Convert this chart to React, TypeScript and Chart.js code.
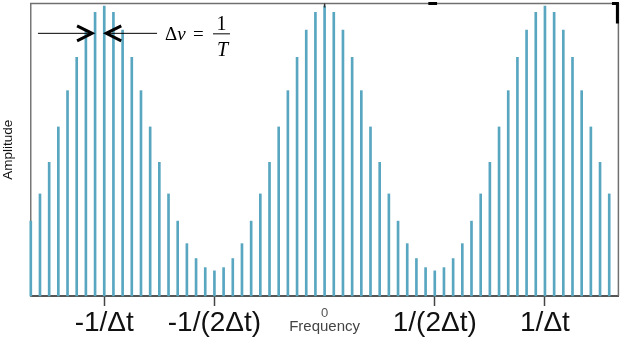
import React, { useEffect, useRef } from "react";
import { Chart, registerables } from "chart.js";

Chart.register(...registerables);

// Amplitude of each spectral line (bins 0..63) (0..100 scale)
const AMPLITUDE = [
  25.6, 34.9, 45.7, 57.8, 70.2, 81.6, 90.9, 97.0, 99.1, 97.0,
  90.9, 81.6, 70.2, 57.8, 45.7, 34.9, 25.6, 17.9, 12.8, 9.7,
  8.6, 9.7, 12.8, 17.9, 25.6, 34.9, 45.7, 57.8, 70.2, 81.6,
  90.9, 97.0, 99.1, 97.0, 90.9, 81.6, 70.2, 57.8, 45.7, 34.9,
  25.6, 17.9, 12.8, 9.7, 8.6, 9.7, 12.8, 17.9, 25.6, 34.9,
  45.7, 57.8, 70.2, 81.6, 90.9, 97.0, 99.1, 97.0, 90.9, 81.6,
  70.2, 57.8, 45.7, 34.9,
];

const TICK_POSITIONS = [8, 20, 32, 44, 56];
const TICK_LABELS = ["-1/\u0394t", "-1/(2\u0394t)", "0", "1/(2\u0394t)", "1/\u0394t"];
const ZERO_TICK = 32;

const X_MIN = 0;
const X_MAX = 64;
const Y_MIN = 0;
const Y_MAX = 100;

const SANS = '"Liberation Sans", Arial, Helvetica, sans-serif';
const SERIF = '"Liberation Serif", "Times New Roman", serif';

const annotationPlugin = {
  id: "annotations",
  afterDraw(chart: any) {
    const { ctx, chartArea: a, scales } = chart;
    const x = scales.x;
    const y = scales.y;
    ctx.save();

    // top and right frame
    ctx.strokeStyle = "#707070";
    ctx.lineWidth = 1.5;
    ctx.beginPath();
    ctx.moveTo(a.left - 0.75, a.top);
    ctx.lineTo(a.right, a.top);
    ctx.lineTo(a.right, a.bottom);
    ctx.stroke();

    // small tick on top border at 0
    ctx.strokeStyle = "#333";
    ctx.lineWidth = 1.5;
    const x0 = x.getPixelForValue(ZERO_TICK);
    ctx.beginPath();
    ctx.moveTo(x0, a.top);
    ctx.lineTo(x0, a.top + 4);
    ctx.stroke();

    // black dash on top border
    ctx.strokeStyle = "#000";
    ctx.lineWidth = 3;
    ctx.beginPath();
    ctx.moveTo(x.getPixelForValue(43.3), a.top);
    ctx.lineTo(x.getPixelForValue(44.25), a.top);
    ctx.stroke();

    // black corner at top right
    ctx.beginPath();
    ctx.moveTo(x.getPixelForValue(63.3), a.top);
    ctx.lineTo(a.right - 1, a.top);
    ctx.lineTo(a.right - 1, a.top + 20);
    ctx.stroke();

    // delta-nu arrows
    const ay = y.getPixelForValue(89.8);
    const leftTip = x.getPixelForValue(7) - 3;
    const rightTip = x.getPixelForValue(8) + 2;
    ctx.strokeStyle = "#000";
    ctx.lineWidth = 1;
    ctx.beginPath();
    ctx.moveTo(x.getPixelForValue(0.78), ay);
    ctx.lineTo(leftTip, ay);
    ctx.moveTo(rightTip, ay);
    ctx.lineTo(x.getPixelForValue(13.75), ay);
    ctx.stroke();

    ctx.lineWidth = 3;
    ctx.lineJoin = "miter";
    ctx.beginPath();
    ctx.moveTo(leftTip - 15, ay - 7.5);
    ctx.lineTo(leftTip, ay);
    ctx.lineTo(leftTip - 15, ay + 7.5);
    ctx.stroke();
    ctx.beginPath();
    ctx.moveTo(rightTip + 15, ay - 7.5);
    ctx.lineTo(rightTip, ay);
    ctx.lineTo(rightTip + 15, ay + 7.5);
    ctx.stroke();

    // "Δν = 1/T"
    ctx.fillStyle = "#000";
    ctx.textBaseline = "alphabetic";
    ctx.textAlign = "left";
    const tx = x.getPixelForValue(14.62);
    ctx.font = `19px ${SERIF}`;
    ctx.fillText("\u0394", tx, ay + 7);
    const dw = ctx.measureText("\u0394").width;
    ctx.font = `italic 19px ${SERIF}`;
    ctx.fillText("\u03BD", tx + dw, ay + 7);
    ctx.font = `19px ${SERIF}`;
    ctx.fillText("=", tx + 28, ay + 7);

    const fx = x.getPixelForValue(20.77);
    ctx.lineWidth = 1;
    ctx.beginPath();
    ctx.moveTo(fx - 8.5, ay + 0.5);
    ctx.lineTo(fx + 8.5, ay + 0.5);
    ctx.stroke();
    ctx.textAlign = "center";
    ctx.font = `20px ${SERIF}`;
    ctx.fillText("1", fx, ay - 3);
    ctx.font = `italic 20px ${SERIF}`;
    ctx.fillText("T", fx + 1, ay + 23);

    ctx.restore();
  },
};

export default function App() {
  const canvasRef = useRef<HTMLCanvasElement | null>(null);

  useEffect(() => {
    if (!canvasRef.current) return;
    const chart = new Chart(canvasRef.current, {
      type: "bar",
      data: {
        datasets: [
          {
            data: AMPLITUDE.map((v, i) => ({ x: i, y: v })),
            backgroundColor: "#58A6C0",
            borderWidth: 0,
            barThickness: 2,
            clip: false,
          },
        ],
      },
      options: {
        responsive: false,
        animation: false,
        layout: { padding: { top: 3.5, right: 4.6, left: 0, bottom: 0 } },
        plugins: {
          legend: { display: false },
          tooltip: { enabled: false },
        },
        scales: {
          x: {
            type: "linear",
            min: X_MIN,
            max: X_MAX,
            offset: false,
            afterBuildTicks: (s: any) => {
              s.ticks = TICK_POSITIONS.map((v) => ({ value: v }));
            },
            afterFit: (s: any) => {
              s.height = 47;
            },
            ticks: {
              autoSkip: false,
              maxRotation: 0,
              minRotation: 0,
              padding: 0,
              callback: (v: any) => {
                const i = TICK_POSITIONS.indexOf(Number(v));
                return i >= 0 ? TICK_LABELS[i] : "";
              },
              font: (ctx: any) =>
                ctx.tick && ctx.tick.value === ZERO_TICK
                  ? { family: SANS, size: 13 }
                  : { family: SANS, size: 28 },
              color: (ctx: any) =>
                ctx.tick && ctx.tick.value === ZERO_TICK ? "#555" : "#111",
            },
            grid: {
              display: true,
              offset: false,
              drawOnChartArea: false,
              tickLength: 10,
              tickWidth: 1.5,
              tickColor: (ctx: any) =>
                ctx.tick && ctx.tick.value === ZERO_TICK ? "rgba(0,0,0,0)" : "#444",
            },
            border: { display: true, color: "#555", width: 2 },
            title: {
              display: true,
              text: "Frequency",
              font: { family: SANS, size: 15 },
              color: "#444",
              padding: { top: 0, bottom: 7 },
            },
          },
          y: {
            min: Y_MIN,
            max: Y_MAX,
            ticks: { display: false },
            grid: { display: false },
            border: { display: true, color: "#777", width: 1.5 },
            afterFit: (s: any) => {
              s.width = 30.8;
            },
            title: {
              display: true,
              text: "Amplitude",
              font: { family: SANS, size: 13.5 },
              color: "#111",
              padding: { top: 0, bottom: 0 },
            },
          },
        },
      },
      plugins: [annotationPlugin],
    } as any);
    return () => chart.destroy();
  }, []);

  return (
    <div style={{ position: "fixed", left: 0, top: 0, width: 623, height: 343, background: "#fff" }}>
      <canvas ref={canvasRef} width={623} height={343} style={{ display: "block" }} />
    </div>
  );
}
